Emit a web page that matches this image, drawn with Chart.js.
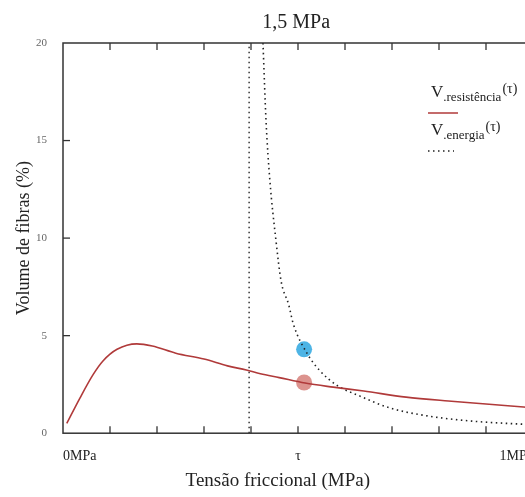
<!DOCTYPE html>
<html>
<head>
<meta charset="utf-8">
<script src="https://cdn.jsdelivr.net/npm/chart.js@4/dist/chart.umd.min.js"></script>
<style>
  html, body { margin: 0; padding: 0; background: #fff; overflow: hidden; }
  #wrap { width: 525px; height: 497px; overflow: hidden; }
</style>
</head>
<body>
<div id="wrap"><canvas id="chart" width="592" height="497"></canvas></div>
<script>
// V.resistencia(tau) - red curve
var resX = [0.008, 0.036, 0.064, 0.085, 0.115, 0.157, 0.19, 0.24, 0.30, 0.35, 0.39, 0.42, 0.46, 0.515, 0.575, 0.64, 0.73, 0.82, 0.90, 0.98, 1.0];
var resY = [0.5, 1.8, 3.0, 3.7, 4.3, 4.58, 4.47, 4.1, 3.8, 3.45, 3.24, 3.05, 2.85, 2.57, 2.36, 2.16, 1.85, 1.65, 1.5, 1.34, 1.3];
// V.energia(tau) - dotted curve
var enX = [0.4255, 0.432, 0.44, 0.453, 0.464, 0.48, 0.49, 0.52, 0.547, 0.583, 0.632, 0.696, 0.78, 0.87, 0.98, 1.0];
var enY = [20, 16, 13, 9.9, 7.8, 6.6, 5.6, 4.06, 3.19, 2.45, 1.9, 1.29, 0.87, 0.62, 0.46, 0.44];
// vertical dotted line
var vLineX = [0.396, 0.396];
var vLineY = [0, 20];
// highlighted points
var redDot = [0.513, 2.6];
var blueDot = [0.513, 4.3];
// texts and tick labels
var chartTitle = '1,5 MPa';
var xTitle = 'Tensão friccional (MPa)';
var yTitle = 'Volume de fibras (%)';
var xTickLabels = { 0: '0MPa', 0.5: '\u03C4', 1: '1MPa' };
var yTicks = [0, 5, 10, 15, 20];

var SERIF = '"Liberation Serif", "DejaVu Serif", serif';

function pts(xs, ys) {
    var out = [];
    for (var i = 0; i < xs.length; i++) out.push({x: xs[i], y: ys[i]});
    return out;
}

// frame, inward tick marks, title and x axis title
const frame = {
    id: 'frame',
    afterDraw: (chart) => {
        const ctx = chart.ctx;
        const a = chart.chartArea;
        const xs = chart.scales.x, ys = chart.scales.y;
        ctx.save();
        ctx.strokeStyle = '#333';
        ctx.lineWidth = 1.5;
        ctx.strokeRect(a.left, a.top, a.right - a.left, a.bottom - a.top);
        ctx.lineWidth = 1.3;
        for (var v = 1; v < 10; v++) {
            var px = xs.getPixelForValue(v / 10);
            ctx.beginPath();
            ctx.moveTo(px, a.bottom); ctx.lineTo(px, a.bottom - 7);
            ctx.moveTo(px, a.top); ctx.lineTo(px, a.top + 7);
            ctx.stroke();
        }
        for (var k = 1; k < yTicks.length - 1; k++) {
            var py = ys.getPixelForValue(yTicks[k]);
            ctx.beginPath();
            ctx.moveTo(a.left, py); ctx.lineTo(a.left + 7, py);
            ctx.stroke();
        }
        ctx.fillStyle = '#222';
        ctx.textAlign = 'center';
        ctx.textBaseline = 'middle';
        ctx.font = '20px ' + SERIF;
        ctx.fillText(chartTitle, xs.getPixelForValue(0.496), a.top - 20);
        ctx.font = '19px ' + SERIF;
        ctx.fillText(xTitle, xs.getPixelForValue(0.457), a.bottom + 48);
        ctx.restore();
    }
};

// legend with subscripts
const legendBox = {
    id: 'legendBox',
    afterDraw: (chart) => {
        const ctx = chart.ctx;
        const a = chart.chartArea;
        var x0 = a.right - 105;
        var rows = [
            {sub: '.resist\u00eancia', y: a.top + 54, dash: [], color: '#b03a3a'},
            {sub: '.energia', y: a.top + 92, dash: [1.5, 3.5], color: '#222'}
        ];
        ctx.save();
        rows.forEach(function (r) {
            ctx.fillStyle = '#222';
            ctx.textBaseline = 'alphabetic';
            ctx.font = '17px ' + SERIF;
            ctx.fillText('V', x0 + 3, r.y);
            var w = ctx.measureText('V').width;
            ctx.font = '13px ' + SERIF;
            ctx.fillText(r.sub, x0 + 3 + w, r.y + 4);
            var w2 = ctx.measureText(r.sub).width;
            ctx.font = '14px ' + SERIF;
            ctx.fillText('(\u03C4)', x0 + 4 + w + w2, r.y - 4);
            ctx.strokeStyle = r.color;
            ctx.lineWidth = 1.5;
            ctx.setLineDash(r.dash);
            ctx.beginPath();
            ctx.moveTo(x0, r.y + 16);
            ctx.lineTo(x0 + (r.dash.length ? 26 : 30), r.y + 16);
            ctx.stroke();
            ctx.setLineDash([]);
        });
        ctx.restore();
    }
};

var ctx = document.getElementById('chart').getContext('2d');
var myChart = new Chart(ctx, {
    type: 'scatter',
    data: {
        datasets: [
            {
                label: 'V.resistência(τ)',
                data: pts(resX, resY),
                showLine: true,
                borderColor: '#b03a3a',
                borderWidth: 1.6,
                pointRadius: 0,
                cubicInterpolationMode: 'monotone'
            },
            {
                label: 'V.energia(τ)',
                data: pts(enX, enY),
                showLine: true,
                borderColor: '#222',
                borderWidth: 1.6,
                borderDash: [1.5, 3.5],
                pointRadius: 0,
                cubicInterpolationMode: 'monotone'
            },
            {
                label: 'limite',
                data: pts(vLineX, vLineY),
                showLine: true,
                borderColor: '#333',
                borderWidth: 1.5,
                borderDash: [1.5, 3.5],
                pointRadius: 0
            },
            {
                label: 'ponto resistência',
                data: [{x: redDot[0], y: redDot[1]}],
                pointRadius: 8,
                pointBackgroundColor: 'rgba(214,128,122,0.85)',
                pointBorderWidth: 0
            },
            {
                label: 'ponto energia',
                data: [{x: blueDot[0], y: blueDot[1]}],
                pointRadius: 8,
                pointBackgroundColor: 'rgba(58,172,226,0.9)',
                pointBorderWidth: 0
            }
        ]
    },
    options: {
        responsive: false,
        animation: false,
        layout: { padding: { left: 8, right: 59, top: 43, bottom: 25 } },
        scales: {
            x: {
                type: 'linear',
                min: 0,
                max: 1,
                grid: { display: false },
                border: { display: false },
                ticks: {
                    stepSize: 0.1,
                    autoSkip: false,
                    maxRotation: 0,
                    align: 'inner',
                    padding: 7,
                    color: '#222',
                    font: { family: SERIF, size: 14 },
                    callback: function (v) {
                        var key = Math.round(v * 10) / 10;
                        return xTickLabels[key] !== undefined ? xTickLabels[key] : '';
                    }
                },
                title: { display: false }
            },
            y: {
                type: 'linear',
                min: 0,
                max: 20,
                grid: { display: false },
                border: { display: false },
                afterBuildTicks: function (scale) {
                    scale.ticks = yTicks.map(function (v) { return {value: v}; });
                },
                afterFit: function (scale) {
                    scale.width = 55;
                },
                ticks: {
                    padding: 8,
                    color: '#666',
                    font: { family: SERIF, size: 11 }
                },
                title: {
                    display: true,
                    text: yTitle,
                    color: '#222',
                    font: { family: SERIF, size: 18 },
                    padding: { top: 5, bottom: 0 }
                }
            }
        },
        plugins: {
            legend: { display: false },
            tooltip: { enabled: false },
            title: { display: false }
        }
    },
    plugins: [frame, legendBox]
});
</script>
</body>
</html>
